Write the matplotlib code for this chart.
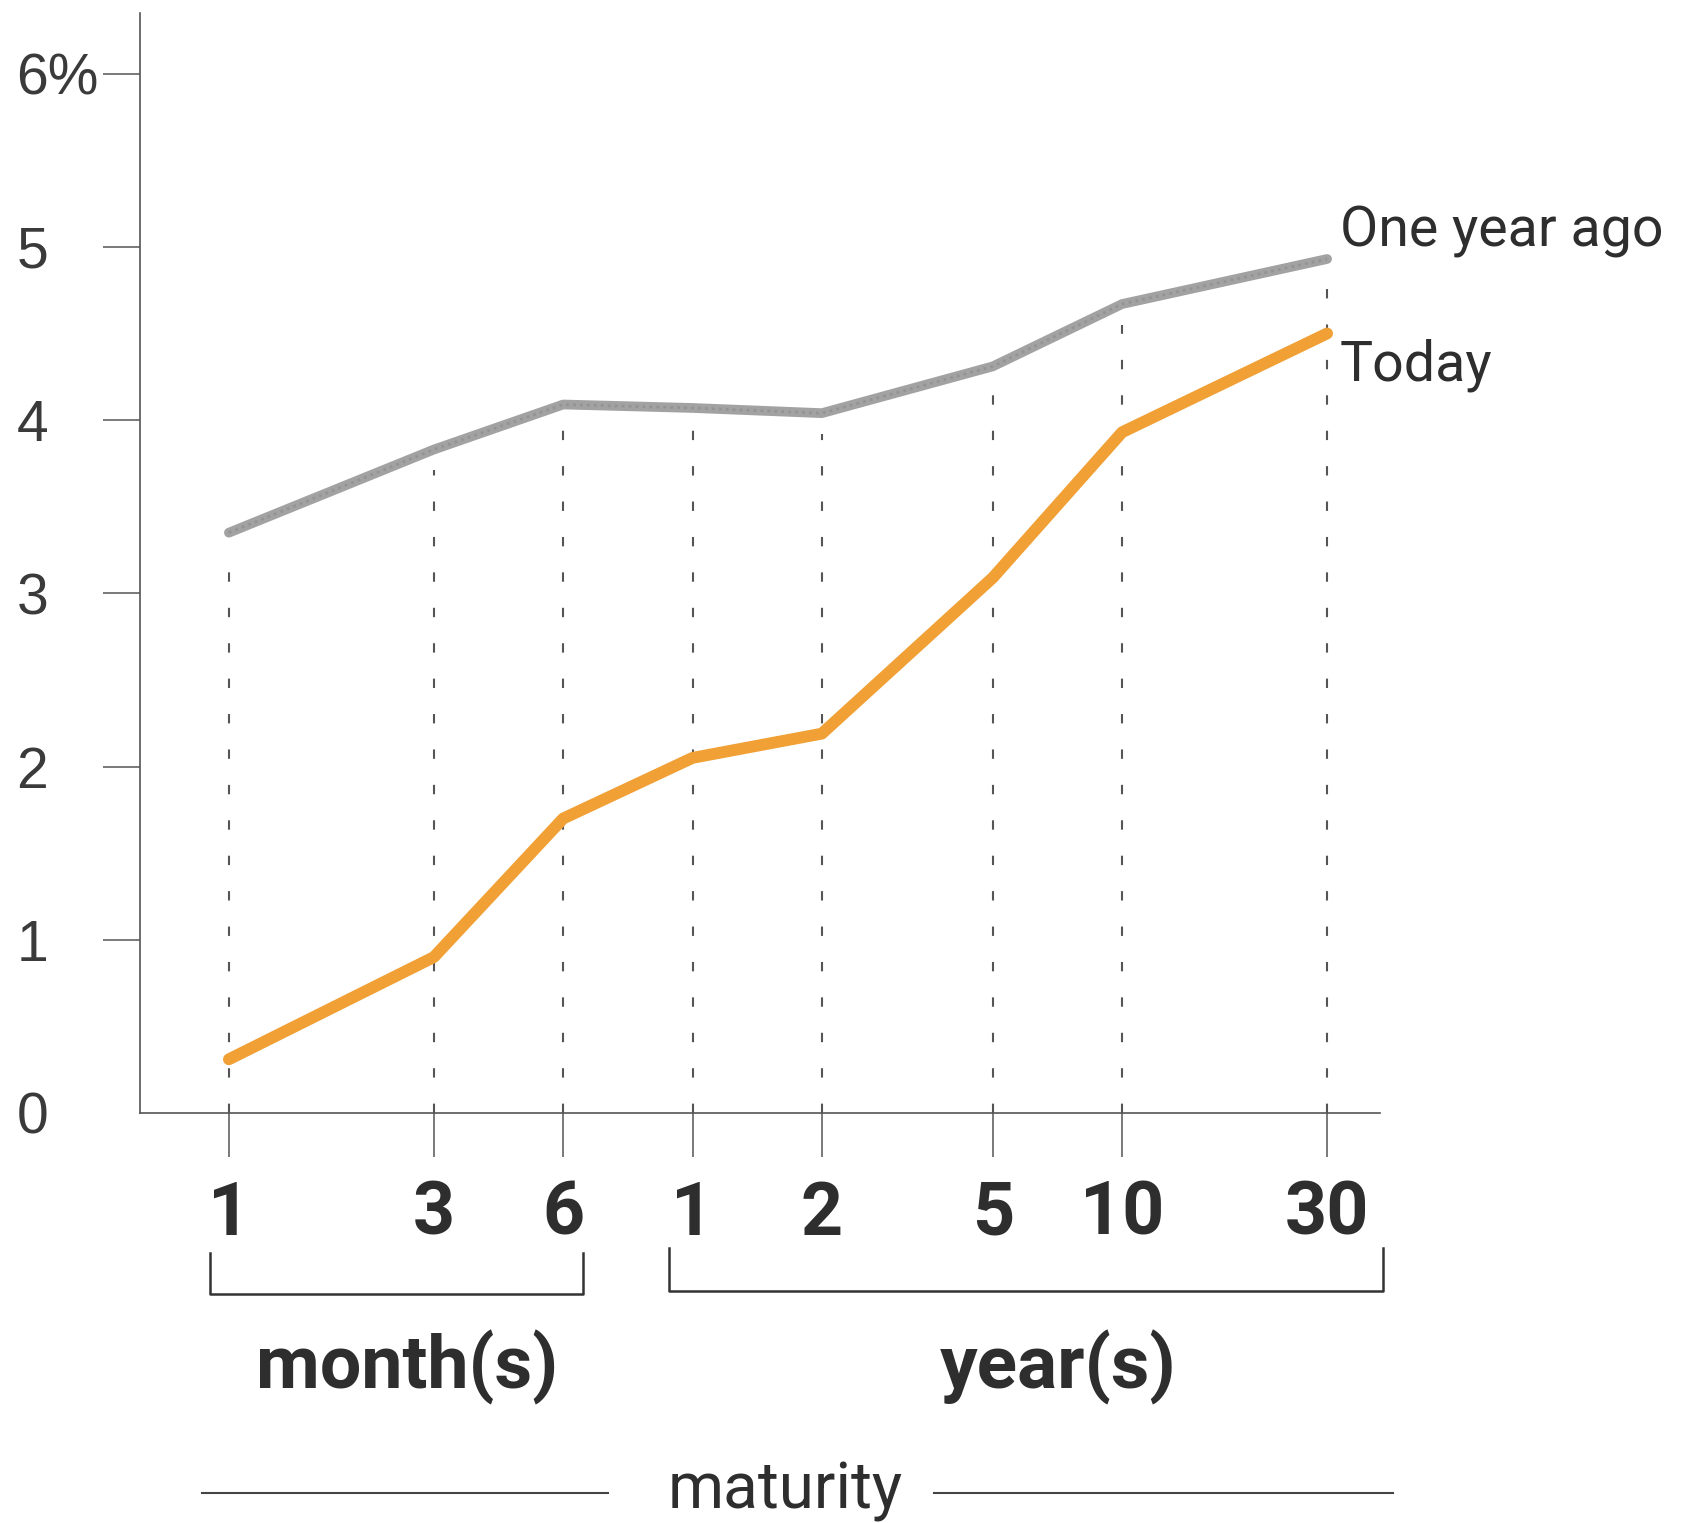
import matplotlib
matplotlib.use("Agg")
import matplotlib.pyplot as plt
from matplotlib.lines import Line2D

# ---- data ----
maturity_months = [1, 3, 6, 12, 24, 60, 120, 360]
tick_labels = ["1", "3", "6", "1", "2", "5", "10", "30"]
one_year_ago = [3.35, 3.83, 4.09, 4.07, 4.04, 4.31, 4.67, 4.93]
today = [0.31, 0.90, 1.70, 2.05, 2.19, 3.09, 3.93, 4.50]
y_ticks = [0, 1, 2, 3, 4, 5, 6]
y_tick_labels = ["0", "1", "2", "3", "4", "5", "6%"]
series_names = ["One year ago", "Today"]
group_names = ["month(s)", "year(s)"]
axis_title = "maturity"

W, H = 1687, 1523
DPI = 100
NARROW = ["Liberation Sans Narrow", "Roboto", "DejaVu Sans"]
REG = ["Liberation Sans", "DejaVu Sans"]
TXT = "#2e2e2e"
AX = "#555555"

def fx(px):
    return px / W

def fy(py):
    return 1 - py / H

fig = plt.figure(figsize=(W / DPI, H / DPI), dpi=DPI)
fig.patch.set_facecolor("white")

ax = fig.add_axes([fx(140), fy(1113), fx(1380) - fx(140), fy(13) - fy(1113)])
ax.set_xscale("log")
ax.set_xlim(0.621, 478)
ax.set_ylim(0, 6.35)

for s in ["top", "right"]:
    ax.spines[s].set_visible(False)
for s in ["left", "bottom"]:
    ax.spines[s].set_color(AX)
    ax.spines[s].set_linewidth(1.2)

# dashed drop lines (start just below the upper curve)
ax.vlines(maturity_months, 0, [v - 0.12 for v in one_year_ago], colors="#555555",
          linewidth=1.5, linestyles=(0, (4.5, 12.5)), zorder=1)

ax.plot(maturity_months, one_year_ago, color="#a2a2a2", linewidth=7,
        solid_capstyle="round", solid_joinstyle="round", zorder=3)
ax.plot(maturity_months, one_year_ago, color="#8a8a8a", linewidth=2,
        linestyle=(0, (1, 1.5)), zorder=3.5, alpha=0.6)
ax.plot(maturity_months, today, color="#F0A035", linewidth=8.5,
        solid_capstyle="round", solid_joinstyle="round", zorder=4)

# x ticks
ax.set_xticks(maturity_months)
ax.set_xticks([], minor=True)
ax.set_xticklabels(tick_labels, fontfamily=NARROW, fontweight="bold",
                   fontsize=53, color=TXT)
ax.tick_params(axis="x", direction="out", length=32, width=1.1, color=AX, pad=16)

# y ticks
ax.set_yticks(y_ticks)
ax.set_yticklabels(y_tick_labels, fontfamily=REG, fontsize=41, color="#3a3a3a",
                   ha="left")
ax.tick_params(axis="y", direction="out", length=27, width=1.1, color=AX, pad=62)
ax.yaxis.get_major_ticks()[0].tick1line.set_visible(False)

# series labels
fig.text(fx(1340), fy(247), series_names[0], fontfamily=NARROW, fontsize=40,
         color=TXT, ha="left", va="baseline")
fig.text(fx(1340), fy(380), series_names[1], fontfamily=NARROW, fontsize=40,
         color=TXT, ha="left", va="baseline")

# brackets
def bracket(x0, x1, ytop, ybot):
    fig.add_artist(Line2D([fx(x0), fx(x0), fx(x1), fx(x1)],
                          [fy(ytop), fy(ybot), fy(ybot), fy(ytop)],
                          color="#333333", linewidth=1.8))

bracket(210, 583, 1253, 1294)
bracket(669, 1383, 1248, 1291)

fig.text(fx(407), fy(1388), group_names[0], fontfamily=NARROW, fontweight="bold",
         fontsize=53, color=TXT, ha="center", va="baseline")
fig.text(fx(1058), fy(1388), group_names[1], fontfamily=NARROW, fontweight="bold",
         fontsize=54, color=TXT, ha="center", va="baseline")

# maturity title with side rules
fig.text(fx(785), fy(1508), axis_title, fontfamily=NARROW, fontsize=46,
         color=TXT, ha="center", va="baseline")
fig.add_artist(Line2D([fx(202), fx(608)], [fy(1493), fy(1493)], color="#444444",
                      linewidth=1.5))
fig.add_artist(Line2D([fx(934), fx(1393)], [fy(1493), fy(1493)], color="#444444",
                      linewidth=1.5))

fig.savefig("out.png", dpi=DPI, facecolor="white")
